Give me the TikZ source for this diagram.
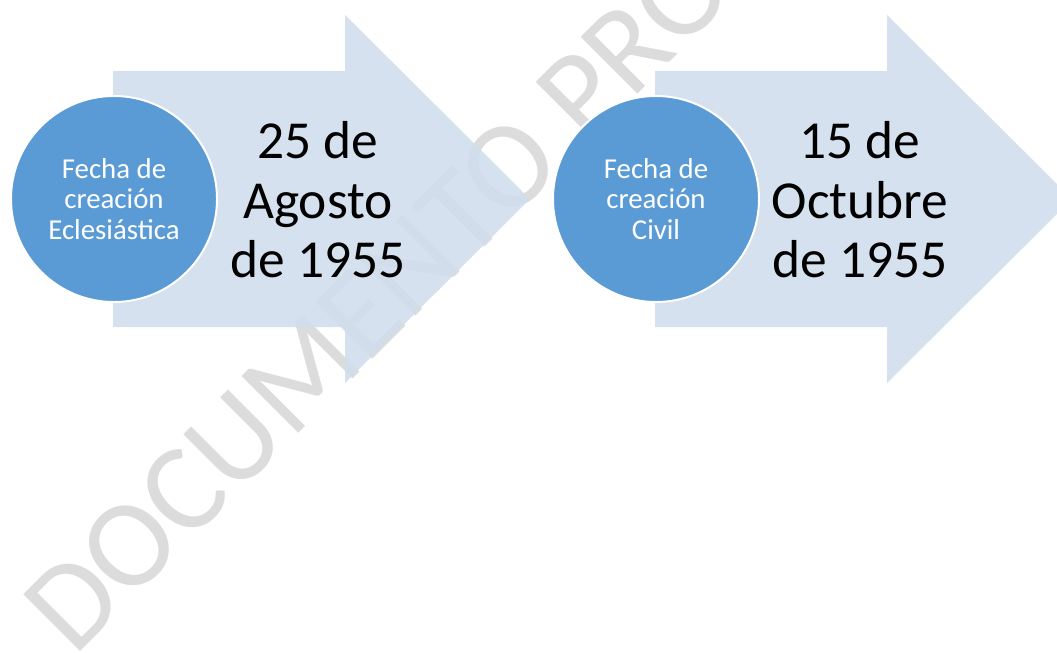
\documentclass[tikz,border=0pt]{standalone}
\usepackage{fontspec}
\setmainfont{Carlito}
\usepackage{tikz}
\usetikzlibrary{positioning}
\tikzset{fecha/.style = {circle, fill = mcirc, draw = white, line width = 1.4pt, minimum size = 5.15cm, inner sep = 0, align = center, text = white, font = \fontsize{20.5}{21.5}\selectfont}}
\tikzset{dia/.style = {align = center, inner sep = 0, font = \fontsize{38}{42.3}\selectfont}}
\tikzset{flecha/.style = {fill = marrow, fill opacity = 0.9}}
\definecolor{mcirc}{HTML}{5B9BD5}
\definecolor{marrow}{HTML}{D1DEEE}
\definecolor{mmark}{HTML}{DCDCDC}

\begin{document}
\begin{tikzpicture}
    \useasboundingbox (0, 0) rectangle (26.425, 16.3);
    \clip (0, 0) rectangle (26.425, 16.3);

    \node [rotate = 45, anchor = base west, inner sep = 0, text = mmark, font = \fontsize{89}{89}\selectfont] (marca) at (1.85, -0.15) {DOCUMENTO PRO};

    \fill [flecha] (2.825, 14.525) -- (8.625, 14.525) -- (8.625, 15.925) -- (13.25, 11.325) -- (8.625, 6.725) -- (8.625, 8.125) -- (2.825, 8.125) -- cycle;
    \fill [flecha] (16.375, 14.525) -- (22.175, 14.525) -- (22.175, 15.925) -- (26.8, 11.325) -- (22.175, 6.725) -- (22.175, 8.125) -- (16.375, 8.125) -- cycle;

    \node [fecha] (ecles) at (2.85, 11.325) {Fecha de\\creación\\Eclesiástica};
    \node [dia] (agosto) at (7.95, 11.3) {25 de\\Agosto\\de 1955};
    \node [fecha] (civil) at (16.4, 11.325) {Fecha de\\creación\\Civil};
    \node [dia] (octubre) at (21.5, 11.3) {15 de\\Octubre\\de 1955};
  \end{tikzpicture}
\end{document}
